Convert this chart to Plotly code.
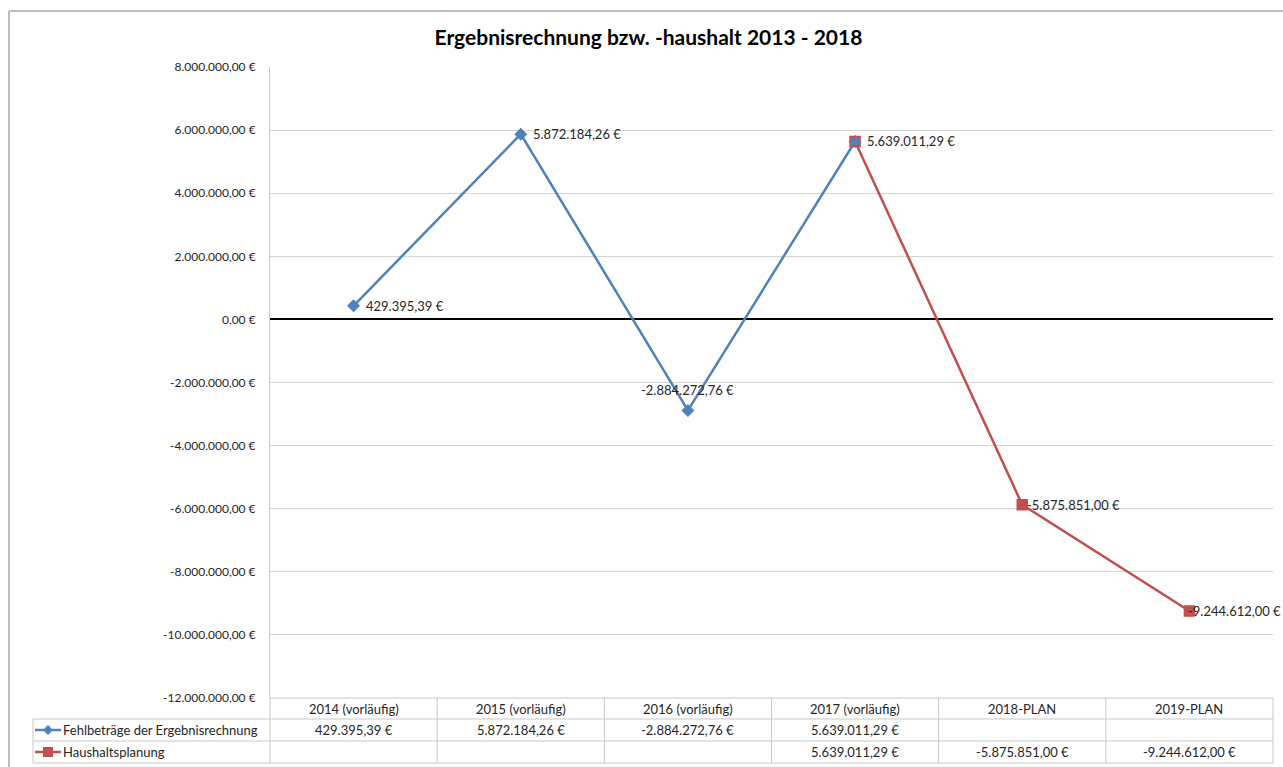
import plotly.graph_objects as go

# ---------------- data ----------------
categories = ["2014 (vorläufig)", "2015 (vorläufig)", "2016 (vorläufig)",
              "2017 (vorläufig)", "2018-PLAN", "2019-PLAN"]
fehlbetraege = [429395.39, 5872184.26, -2884272.76, 5639011.29, None, None]
haushaltsplanung = [None, None, None, 5639011.29, -5875851.00, -9244612.00]
series_names = ["Fehlbeträge der Ergebnisrechnung", "Haushaltsplanung"]
y_ticks = [8000000, 6000000, 4000000, 2000000, 0, -2000000, -4000000,
           -6000000, -8000000, -10000000, -12000000]
title_text = "Ergebnisrechnung bzw. -haushalt 2013 - 2018"

# ---------------- style ----------------
BLUE = "#4F81BD"
RED = "#C0504D"
GRID = "#D4D4D4"
TABLE = "#C8C8C8"
TXT = "#262626"
FONT = "Lato"
FS = 13

W, H = 1283, 767
L, R, T, B = 270, 1273, 67, 698


def px(x):
    return (x - L) / (R - L)


def py(y):
    return (B - y) / (B - T)


def fmt(v):
    s = f"{abs(v):,.2f}".replace(",", "X").replace(".", ",").replace("X", ".")
    return ("-" if v < 0 else "") + s + " €"


xs = list(range(len(categories)))

fig = go.Figure()

fig.add_trace(go.Scatter(
    x=xs, y=fehlbetraege, mode="lines+markers", name=series_names[0],
    line=dict(color=BLUE, width=2.5),
    marker=dict(symbol="diamond", size=10, color=BLUE),
    showlegend=False, cliponaxis=False,
))

red_fill = [BLUE if (v is not None and fehlbetraege[i] is not None) else RED
            for i, v in enumerate(haushaltsplanung)]
fig.add_trace(go.Scatter(
    x=xs, y=haushaltsplanung, mode="lines+markers", name=series_names[1],
    line=dict(color=RED, width=2.5),
    marker=dict(symbol="square", size=10, color=red_fill,
                line=dict(color=RED, width=1.5)),
    showlegend=False, cliponaxis=False,
))

annotations = []
shapes = []

# data labels
for i, v in enumerate(fehlbetraege):
    if v is None:
        continue
    if v < 0:
        annotations.append(dict(x=i, y=v, xref="x", yref="y", text=fmt(v),
                                showarrow=False, xanchor="center", yanchor="middle",
                                yshift=20, font=dict(family=FONT, size=FS, color=TXT)))
    else:
        annotations.append(dict(x=i, y=v, xref="x", yref="y", text=fmt(v),
                                showarrow=False, xanchor="left", yanchor="middle",
                                xshift=10, font=dict(family=FONT, size=FS, color=TXT)))
for i, v in enumerate(haushaltsplanung):
    if v is None or fehlbetraege[i] is not None:
        continue
    last = i == len(haushaltsplanung) - 1
    annotations.append(dict(x=i, y=v, xref="x", yref="y", text=fmt(v),
                            showarrow=False, xanchor="left", yanchor="middle",
                            xshift=-3 if last else 3,
                            font=dict(family=FONT, size=FS, color=TXT)))

# ---------------- data table ----------------
row_lines = [698, 719, 741, 763]
n = len(categories)
line_style = dict(color=TABLE, width=1)

shapes.append(dict(type="line", xref="paper", yref="paper", x0=0, x1=1,
                   y0=py(row_lines[0]), y1=py(row_lines[0]), line=line_style))
for yy in row_lines[1:]:
    shapes.append(dict(type="line", xref="paper", yref="paper", x0=px(33), x1=1,
                       y0=py(yy), y1=py(yy), line=line_style))
shapes.append(dict(type="line", xref="paper", yref="paper", x0=px(33), x1=px(33),
                   y0=py(719), y1=py(763), line=line_style))
for k in range(n + 1):
    shapes.append(dict(type="line", xref="paper", yref="paper", x0=k / n, x1=k / n,
                       y0=py(698), y1=py(763), line=line_style))

row_centers = [708.5, 730, 752]
for i, c in enumerate(categories):
    annotations.append(dict(x=(i + 0.5) / n, y=py(row_centers[0]), xref="paper", yref="paper",
                            text=c, showarrow=False, xanchor="center", yanchor="middle",
                            font=dict(family=FONT, size=FS, color=TXT)))
for r, series in enumerate([fehlbetraege, haushaltsplanung]):
    for i, v in enumerate(series):
        if v is None:
            continue
        annotations.append(dict(x=(i + 0.5) / n, y=py(row_centers[r + 1]), xref="paper",
                                yref="paper", text=fmt(v), showarrow=False,
                                xanchor="center", yanchor="middle",
                                font=dict(family=FONT, size=FS, color=TXT)))

# legend keys inside table
key_colors = [BLUE, RED]
key_paths = ["M -5,0 L 0,5 L 5,0 L 0,-5 Z", "M -5,-5 L 5,-5 L 5,5 L -5,5 Z"]
for r in range(2):
    yc = py(row_centers[r + 1])
    shapes.append(dict(type="line", xref="paper", yref="paper", x0=px(35), x1=px(61),
                       y0=yc, y1=yc, line=dict(color=key_colors[r], width=2.5)))
    shapes.append(dict(type="path", xref="paper", yref="paper",
                       xsizemode="pixel", ysizemode="pixel",
                       xanchor=px(48), yanchor=yc, path=key_paths[r],
                       fillcolor=key_colors[r], line=dict(color=key_colors[r], width=0)))
    annotations.append(dict(x=px(61), y=yc, xref="paper", yref="paper",
                            text=series_names[r], showarrow=False,
                            xanchor="left", yanchor="middle",
                            font=dict(family=FONT, size=FS, color=TXT)))

# outer chart frame (top and left)
frame = dict(color="#BDBDBD", width=2)
shapes.append(dict(type="line", xref="paper", yref="paper", x0=px(9), x1=px(1290),
                   y0=py(11), y1=py(11), line=frame))
shapes.append(dict(type="line", xref="paper", yref="paper", x0=px(9), x1=px(9),
                   y0=py(11), y1=py(770), line=frame))

fig.update_layout(
    width=W, height=H,
    margin=dict(l=L, r=W - R, t=T, b=H - B),
    paper_bgcolor="white", plot_bgcolor="white",
    title=dict(text="<b>" + title_text + "</b>", x=(437 + 860) / 2 / W, xanchor="center",
               y=1 - 38 / H, yanchor="middle", yref="container",
               font=dict(family=FONT, size=21, color="#000000")),
    xaxis=dict(range=[-0.5, n - 0.5], showticklabels=False, showgrid=False,
               zeroline=False, showline=False, ticks=""),
    yaxis=dict(range=[y_ticks[-1], y_ticks[0]], tickvals=y_ticks,
               ticktext=[fmt(v) for v in y_ticks], showgrid=True, gridcolor=GRID,
               gridwidth=1, zeroline=True, zerolinecolor="#000000", zerolinewidth=2,
               showline=True, linecolor=TABLE, linewidth=1, ticks="",
               ticklabelstandoff=11,
               tickfont=dict(family=FONT, size=12, color=TXT)),
    shapes=shapes,
    annotations=annotations,
    showlegend=False,
)

fig.write_html("out.html")
